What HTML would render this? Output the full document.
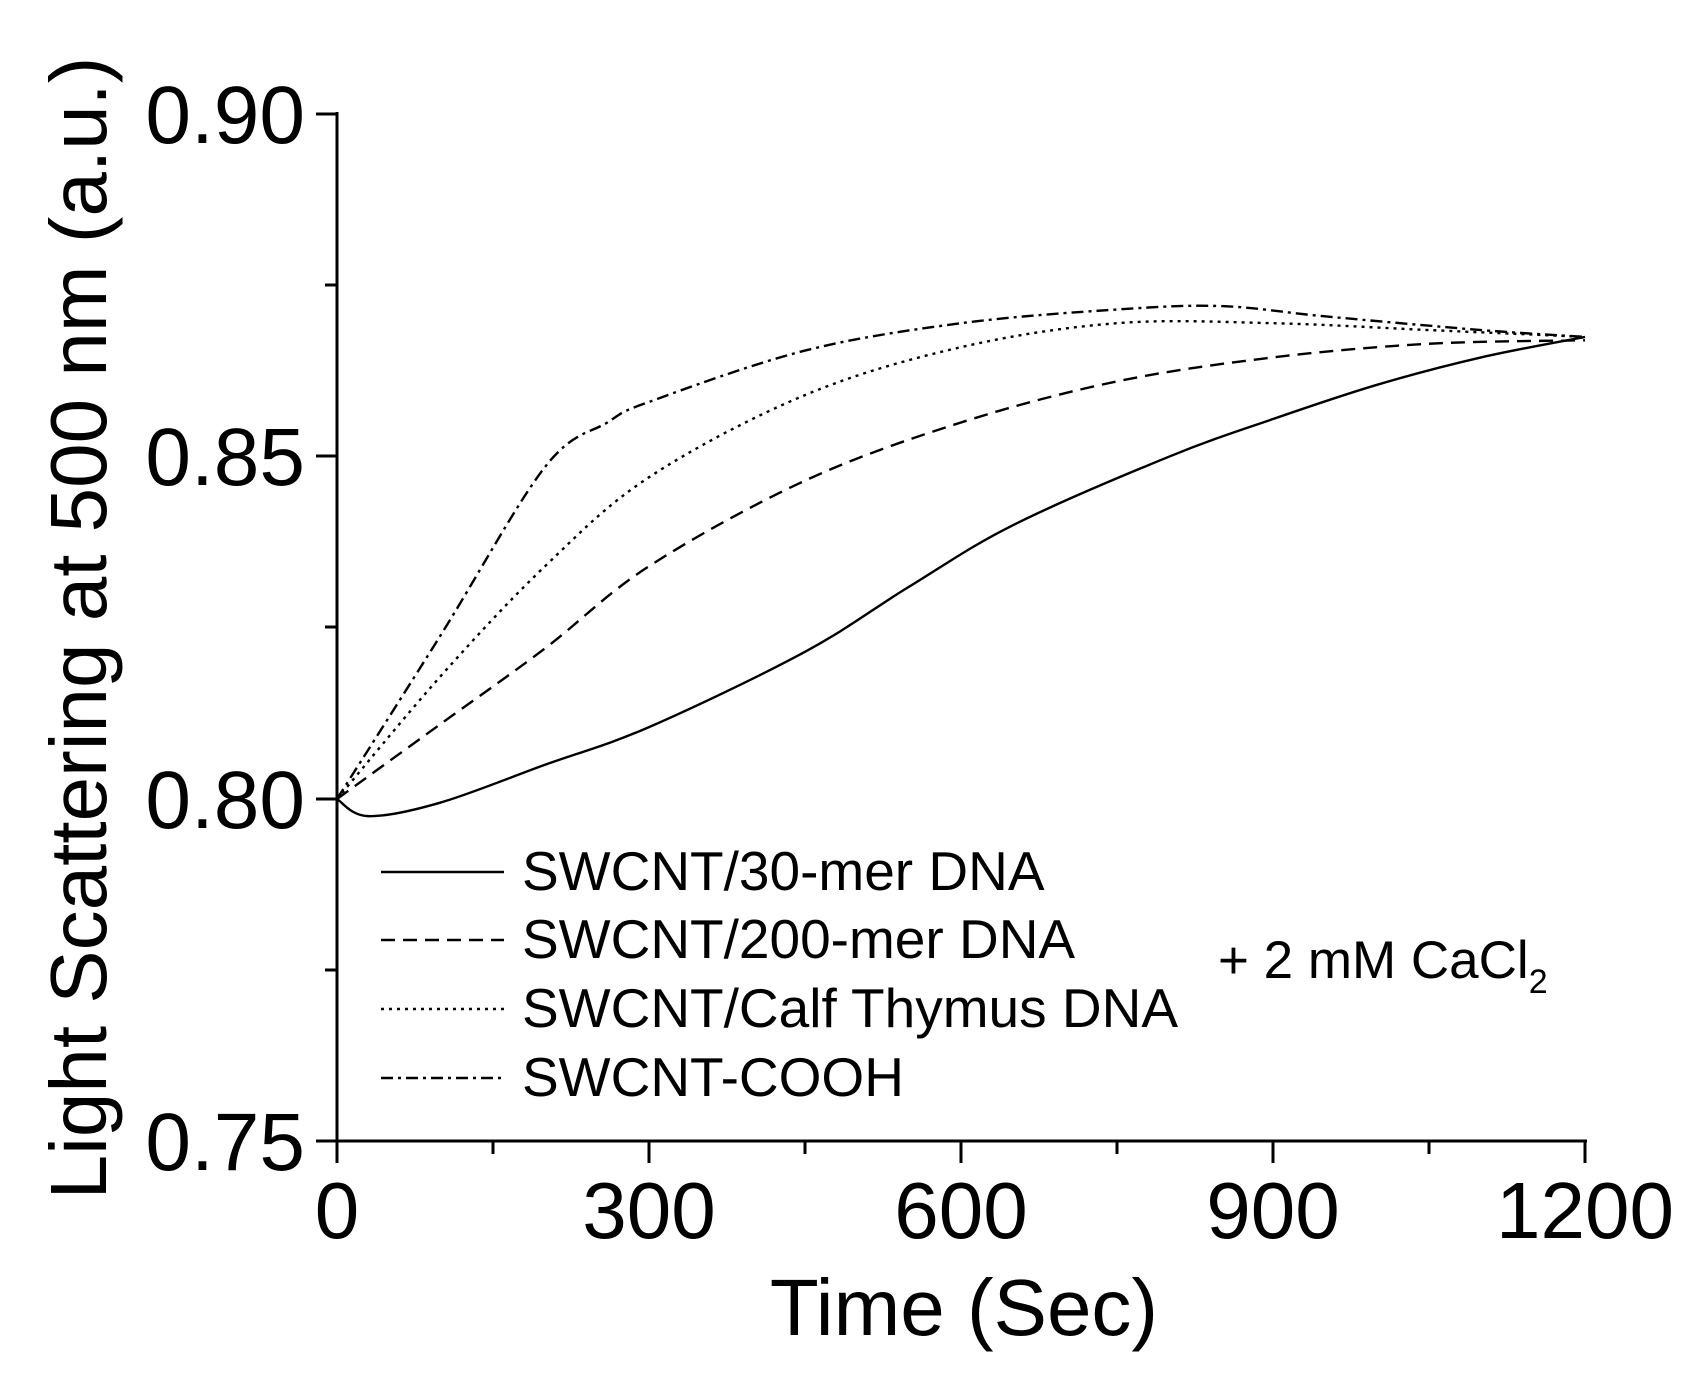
<!DOCTYPE html>
<html><head><style>
body{margin:0;background:#fff;}
svg{display:block;font-family:"Liberation Sans",sans-serif;}
</style></head><body>
<svg id="s" width="1698" height="1379" viewBox="0 0 1698 1379">
<g stroke="#000" stroke-width="3" fill="none">
<line x1="337" y1="112" x2="337" y2="1142"/>
<line x1="316" y1="1141" x2="1587" y2="1141"/>
<line x1="316" y1="114" x2="337" y2="114"/>
<line x1="316" y1="456" x2="337" y2="456"/>
<line x1="316" y1="799" x2="337" y2="799"/>
<line x1="325" y1="285" x2="337" y2="285"/>
<line x1="325" y1="627" x2="337" y2="627"/>
<line x1="325" y1="970" x2="337" y2="970"/>
<line x1="337" y1="1141" x2="337" y2="1163"/>
<line x1="649" y1="1141" x2="649" y2="1163"/>
<line x1="961" y1="1141" x2="961" y2="1163"/>
<line x1="1273" y1="1141" x2="1273" y2="1163"/>
<line x1="1585" y1="1141" x2="1585" y2="1163"/>
<line x1="493" y1="1141" x2="493" y2="1154"/>
<line x1="805" y1="1141" x2="805" y2="1154"/>
<line x1="1117" y1="1141" x2="1117" y2="1154"/>
<line x1="1429" y1="1141" x2="1429" y2="1154"/>
</g>
<g id="curves" fill="none" stroke="#000" stroke-width="2.4"></g>
<g font-size="82" text-anchor="end">
<text x="305" y="143">0.90</text>
<text x="305" y="485">0.85</text>
<text x="305" y="828">0.80</text>
<text x="305" y="1170">0.75</text>
</g>
<g font-size="80" text-anchor="middle">
<text x="337" y="1238">0</text>
<text x="649" y="1238">300</text>
<text x="961" y="1238">600</text>
<text x="1273" y="1238">900</text>
<text x="1585" y="1238">1200</text>
</g>
<text x="964" y="1335" font-size="80" text-anchor="middle">Time (Sec)</text>
<text transform="translate(106,628) rotate(-90)" font-size="80" text-anchor="middle">Light Scattering at 500 nm (a.u.)</text>
<g stroke="#000" stroke-width="2.4">
<line x1="381" y1="872" x2="504" y2="872"/>
<line x1="381" y1="940" x2="504" y2="940" stroke-dasharray="14,8"/>
<line x1="381" y1="1009" x2="504" y2="1009" stroke-dasharray="3,5"/>
<line x1="381" y1="1078" x2="504" y2="1078" stroke-dasharray="12,5,3,5"/>
</g>
<g font-size="55">
<text x="522" y="890">SWCNT/30-mer DNA</text>
<text x="522" y="958">SWCNT/200-mer DNA</text>
<text x="522" y="1027">SWCNT/Calf Thymus DNA</text>
<text x="522" y="1096">SWCNT-COOH</text>
<text x="1218" y="978" font-size="53">+ 2 mM CaCl<tspan font-size="34" dy="15">2</tspan></text>
</g>
</svg>
<script>
var D=[
[[0,.8],[30,.7975],[100,.7995],[200,.805],[300,.8105],[450,.8215],[550,.831],[650,.84],[800,.85],[900,.8555],[1000,.8605],[1100,.8645],[1200,.8675]],
[[0,.8],[100,.811],[200,.822],[300,.834],[450,.8465],[600,.855],[750,.861],[900,.8645],[1050,.8665],[1200,.867]],
[[0,.8],[100,.818],[200,.834],[300,.847],[450,.859],[600,.866],[750,.8695],[900,.8695],[1050,.8685],[1200,.8675]],
[[0,.8],[100,.824],[200,.8485],[260,.855],[300,.858],[450,.8655],[600,.8695],[750,.8715],[850,.872],[950,.8705],[1100,.8685],[1200,.8675]]];
var dash=["","14,8","3,5","12,5,3,5"];
var g=document.getElementById("curves");
D.forEach(function(d,i){
 var p=d.map(function(q){return [337+q[0]*1.04,799-(q[1]-.8)*6846];});
 var s="M"+p[0][0]+","+p[0][1];
 for(var k=0;k<p.length-1;k++){
  var p0=p[k-1]||p[k],p1=p[k],p2=p[k+1],p3=p[k+2]||p2;
  s+=" C"+(p1[0]+(p2[0]-p0[0])/6)+","+(p1[1]+(p2[1]-p0[1])/6)+" "+(p2[0]-(p3[0]-p1[0])/6)+","+(p2[1]-(p3[1]-p1[1])/6)+" "+p2[0]+","+p2[1];
 }
 var e=document.createElementNS("http://www.w3.org/2000/svg","path");
 e.setAttribute("d",s);
 if(dash[i])e.setAttribute("stroke-dasharray",dash[i]);
 g.appendChild(e);
});
</script>
</body></html>
